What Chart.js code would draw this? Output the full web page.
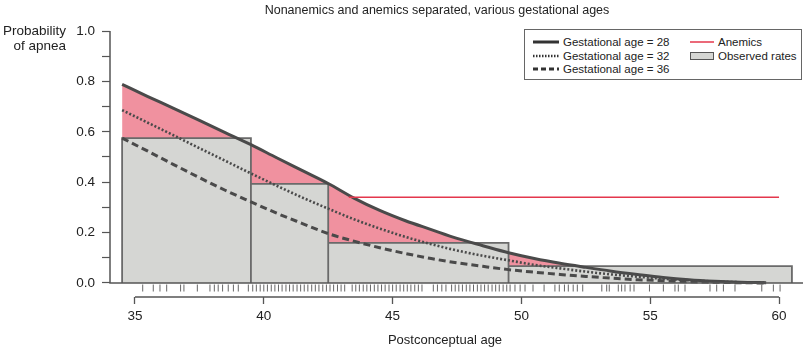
<!DOCTYPE html>
<html>
<head>
<meta charset="utf-8">
<script src="https://cdn.jsdelivr.net/npm/chart.js@4.4.0/dist/chart.umd.min.js"></script>
<style>
  html, body { margin: 0; padding: 0; background: #fff; }
  #wrap { position: relative; width: 808px; height: 351px; font-family: "Liberation Sans", Arial, sans-serif; color: #222; }
  #title { position: absolute; top: 3px; left: 237px; width: 400px; text-align: center; font-size: 12.5px; line-height: 15px; white-space: nowrap; }
  #ylabel { position: absolute; top: 23px; left: 0; width: 66px; text-align: right; font-size: 13.5px; line-height: 15px; white-space: nowrap; }
  #xlabel { position: absolute; top: 331px; left: 345px; width: 200px; text-align: center; font-size: 13px; line-height: 17px; white-space: nowrap; }
  #legend { position: absolute; left: 524px; top: 29px; width: 276px; height: 49px; border: 1px solid #666; background: #fff; font-size: 11.5px; }
  #legend .item { position: absolute; height: 14px; line-height: 14px; white-space: nowrap; }
  #legend svg { position: absolute; left: 0; top: 0; }
  #legend span { position: absolute; top: 0; }
</style>
</head>
<body>
<div id="wrap">
  <canvas id="apneaChart" width="808" height="351"></canvas>
  <div id="title">Nonanemics and anemics separated, various gestational ages</div>
  <div id="ylabel">Probability<br>of apnea</div>
  <div id="xlabel">Postconceptual age</div>
  <div id="legend"></div>
</div>
<script>
// Wiek postkoncepcyjny (tygodnie) dla krzywych
const curveAges = [34.5, 35.5, 36.5, 37.5, 38.5, 39.5, 40.5, 41.5, 42.5, 43.5, 44.5, 45.5, 46.5,
                   47.5, 48.5, 49.5, 50.5, 51.5, 52.5, 53.5, 54.5, 55.5, 56.5, 57.5, 58.5, 59.5];
// Prawdopodobieństwo bezdechu, wiek ciążowy 28 / 32 / 36
const ga28 = [0.788, 0.740, 0.693, 0.645, 0.597, 0.549, 0.497, 0.446, 0.395, 0.337, 0.288, 0.247, 0.212,
              0.177, 0.148, 0.120, 0.097, 0.078, 0.062, 0.047, 0.034, 0.022, 0.013, 0.007, 0.003, 0.001];
const ga32 = [0.686, 0.636, 0.586, 0.535, 0.485, 0.435, 0.386, 0.339, 0.295, 0.253, 0.216, 0.183, 0.154,
              0.129, 0.108, 0.090, 0.072, 0.058, 0.045, 0.034, 0.025, 0.017, 0.011, 0.006, 0.003, 0.001];
const ga36 = [0.575, 0.523, 0.470, 0.418, 0.368, 0.322, 0.277, 0.236, 0.196, 0.166, 0.140, 0.117, 0.097,
              0.080, 0.066, 0.053, 0.043, 0.034, 0.026, 0.019, 0.013, 0.009, 0.005, 0.003, 0.001, 0.000];

// Anemicy - stała linia
const anemicsAges = [43.3, 60];
const anemicsRate = [0.34, 0.34];

// Obserwowane częstości (przedziały wieku)
const binEdges = [34.5, 39.5, 42.5, 49.5, 60.5];
const observedRates = [0.575, 0.393, 0.159, 0.067];

// Pojedyncze obserwacje (rug)
const rugAges = [35.30, 35.71, 35.97, 36.23, 36.77, 36.90, 37.42, 37.91, 38.08, 38.23, 38.40, 38.62, 38.82, 39.01, 39.40,
  39.57, 39.71, 39.86, 40.00, 40.14, 40.29, 40.43, 40.57, 40.71, 40.86, 41.00, 41.14, 41.29, 41.43, 41.57, 41.71,
  41.86, 42.00, 42.14, 42.29, 42.43, 42.57, 42.71, 42.86, 43.00, 43.14,
  43.43, 43.57, 43.71, 43.86, 44.00, 44.14, 44.29, 44.43, 44.57, 44.71, 44.86, 45.00, 45.14, 45.29, 45.43, 45.57,
  45.71, 45.86, 46.00, 46.14, 46.58, 46.74, 46.91, 47.07,
  47.29, 47.43, 47.57, 47.71, 47.86, 48.00, 48.14, 48.29, 48.43, 48.57, 48.71, 48.86, 49.00, 49.14, 49.29, 49.43,
  49.56, 49.75, 49.95, 50.14, 50.45, 50.88, 51.30, 51.47, 51.67, 51.82, 52.01, 52.17, 52.38,
  53.12, 53.31, 53.41, 53.76, 53.89, 54.02, 54.22, 54.37, 54.97, 55.51, 55.96, 56.09, 56.35,
  57.32, 57.58, 57.84, 58.29, 59.33, 59.78, 60.04];

// Podziałki osi
const xTicks = [35, 40, 45, 50, 55, 60];
const yTicks = [0, 0.1, 0.2, 0.3, 0.4, 0.5, 0.6, 0.7, 0.8, 0.9, 1.0];

const curveColor = '#4a4a4a';
const pink = '#f0919f';
const red = '#e4374c';
const barFill = '#d5d6d3';
const barLine = '#6a6a6a';

const toPoints = (xs, ys) => xs.map((x, i) => ({ x: x, y: ys[i] }));

// Obrys prostokątów obserwowanych częstości
const observedOutline = [];
observedRates.forEach((r, i) => {
    observedOutline.push({ x: binEdges[i], y: 0 });
    observedOutline.push({ x: binEdges[i], y: r });
    observedOutline.push({ x: binEdges[i + 1], y: r });
});
observedOutline.push({ x: binEdges[binEdges.length - 1], y: 0 });

const rugLevel = -0.02;

// Osie w stylu R: ramka L na poziomie 0 i osobna oś X poniżej
const axisFrame = {
    id: 'axisFrame',
    afterDatasetsDraw(chart) {
        const { ctx, chartArea, scales: { x, y } } = chart;
        ctx.save();
        ctx.strokeStyle = '#555';
        ctx.lineWidth = 1.5;
        ctx.beginPath();
        ctx.moveTo(chartArea.left, y.getPixelForValue(yTicks[yTicks.length - 1]));
        ctx.lineTo(chartArea.left, y.getPixelForValue(0));
        ctx.lineTo(chartArea.right, y.getPixelForValue(0));
        ctx.moveTo(x.getPixelForValue(xTicks[0]), chartArea.bottom);
        ctx.lineTo(x.getPixelForValue(xTicks[xTicks.length - 1]), chartArea.bottom);
        ctx.stroke();
        ctx.restore();
    }
};

const curveOpts = {
    type: 'line',
    pointRadius: 0,
    cubicInterpolationMode: 'monotone',
    fill: false
};

const ctx = document.getElementById('apneaChart').getContext('2d');
const apneaChart = new Chart(ctx, {
    type: 'line',
    data: {
        datasets: [
            { ...curveOpts, label: 'Gestational age = 28 (area)', data: toPoints(curveAges, ga28),
              borderWidth: 0, borderColor: 'rgba(0,0,0,0)', backgroundColor: pink, fill: 'origin', order: 7 },
            { type: 'line', label: 'Observed rates', data: observedOutline, pointRadius: 0, tension: 0,
              borderColor: barLine, borderWidth: 1.8, backgroundColor: barFill, fill: 'origin', order: 6 },
            { ...curveOpts, label: 'Gestational age = 28', data: toPoints(curveAges, ga28),
              borderColor: curveColor, borderWidth: 3, order: 5 },
            { ...curveOpts, label: 'Gestational age = 32', data: toPoints(curveAges, ga32),
              borderColor: curveColor, borderWidth: 2.6, borderDash: [2, 2], order: 4 },
            { ...curveOpts, label: 'Gestational age = 36', data: toPoints(curveAges, ga36),
              borderColor: curveColor, borderWidth: 3, borderDash: [7, 4], order: 3 },
            { type: 'line', label: 'Anemics', data: toPoints(anemicsAges, anemicsRate), pointRadius: 0,
              borderColor: red, borderWidth: 1.6, fill: false, order: 2 },
            { type: 'scatter', label: 'rug', data: rugAges.map(a => ({ x: a, y: rugLevel })), showLine: false,
              pointStyle: 'line', rotation: 90, pointRadius: 3.5, borderColor: '#666', borderWidth: 1, order: 1 }
        ]
    },
    options: {
        responsive: false,
        animation: false,
        events: [],
        layout: { padding: { top: 31, right: 5, bottom: 0, left: 0 } },
        plugins: {
            legend: { display: false },
            tooltip: { enabled: false }
        },
        scales: {
            x: {
                type: 'linear',
                min: 34.03,
                max: 60.93,
                afterBuildTicks: s => { s.ticks = xTicks.map(v => ({ value: v })); },
                afterFit: s => { s.height = 54; },
                border: { display: false },
                grid: { drawOnChartArea: false, drawTicks: true, tickLength: 7, color: '#555', tickWidth: 1.3 },
                ticks: { color: '#222', font: { family: 'Liberation Sans', size: 13.5 }, padding: 4, maxRotation: 0 }
            },
            y: {
                min: -0.0556,
                max: 1.0,
                afterBuildTicks: s => { s.ticks = yTicks.map(v => ({ value: v })); },
                afterFit: s => { s.width = 110; },
                border: { display: false },
                grid: { drawOnChartArea: false, drawTicks: true, tickLength: 8, color: '#555', tickWidth: 1.2 },
                ticks: {
                    color: '#222',
                    font: { family: 'Liberation Sans', size: 13.5 },
                    padding: 7,
                    callback: v => (Math.round(v * 10) % 2 === 0 ? v.toFixed(1) : '')
                }
            }
        }
    },
    plugins: [axisFrame]
});

// Legenda w HTML (dwie kolumny, jak w oryginale)
const legendEntries = [
    { label: 'Gestational age = 28', kind: 'solid' },
    { label: 'Gestational age = 32', kind: 'dotted' },
    { label: 'Gestational age = 36', kind: 'dashed' },
    { label: 'Anemics', kind: 'red' },
    { label: 'Observed rates', kind: 'box' }
];
const legendEl = document.getElementById('legend');
legendEntries.forEach((e, i) => {
    const col = i < 3 ? 0 : 1;
    const row = i < 3 ? i : i - 3;
    const item = document.createElement('div');
    item.className = 'item';
    item.style.left = (col === 0 ? 7 : 164) + 'px';
    item.style.top = (5 + row * 13.5) + 'px';
    let svg = '<svg width="28" height="14">';
    if (e.kind === 'solid') svg += '<line x1="1" y1="7" x2="27" y2="7" stroke="#333" stroke-width="3"/>';
    if (e.kind === 'dotted') svg += '<line x1="1" y1="7" x2="27" y2="7" stroke="#333" stroke-width="2.5" stroke-dasharray="1.5,1.5"/>';
    if (e.kind === 'dashed') svg += '<line x1="1" y1="7" x2="27" y2="7" stroke="#333" stroke-width="3" stroke-dasharray="5,3"/>';
    if (e.kind === 'red') svg += '<line x1="1" y1="7" x2="25" y2="7" stroke="' + red + '" stroke-width="1.5"/>';
    if (e.kind === 'box') svg += '<rect x="1.5" y="3.5" width="23" height="7" fill="' + barFill + '" stroke="#555" stroke-width="1"/>';
    svg += '</svg>';
    item.innerHTML = svg + '<span style="left:' + (col === 0 ? 31 : 29) + 'px">' + e.label + '</span>';
    legendEl.appendChild(item);
});
</script>
</body>
</html>
